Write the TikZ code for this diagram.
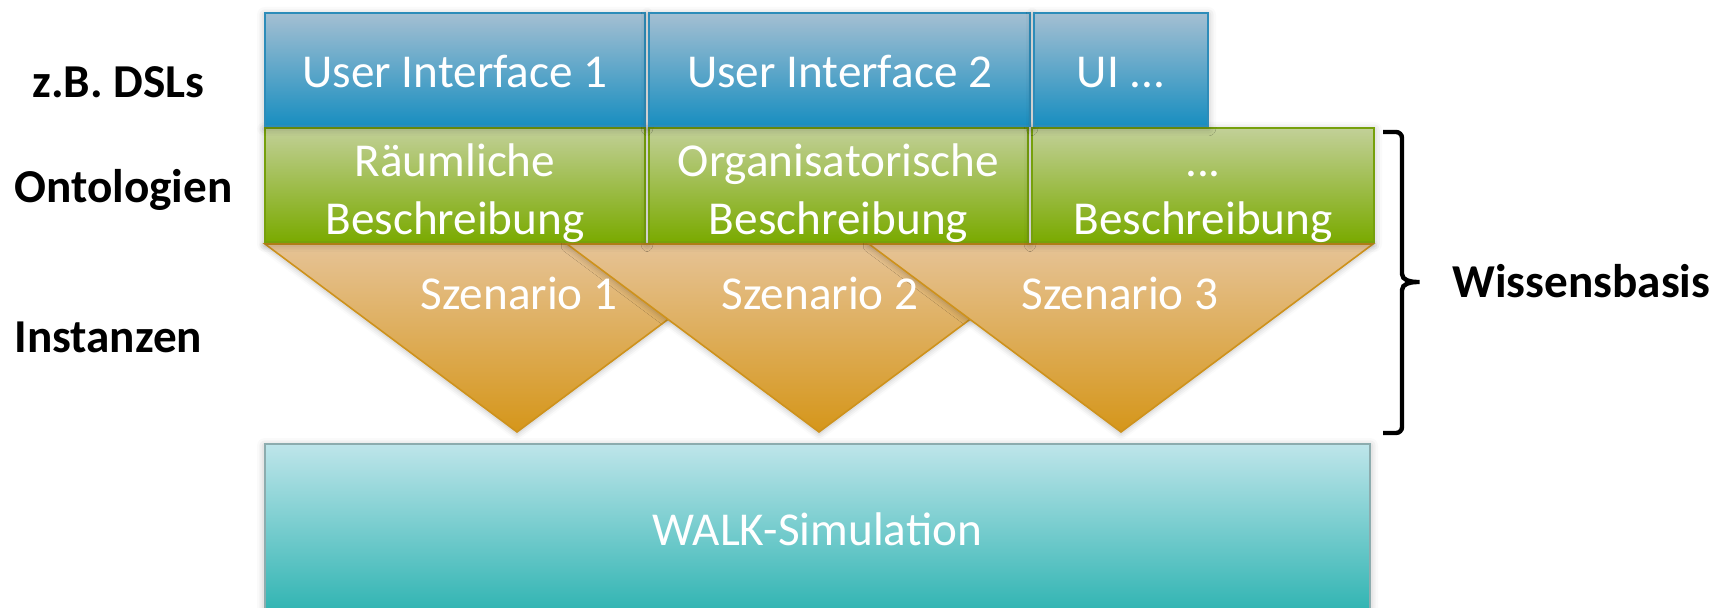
\documentclass[tikz,border=0pt]{standalone}
\usepackage{fontspec}
\setmainfont{Carlito}
\usetikzlibrary{shadows.blur}

\definecolor{uitop}{RGB}{164,191,210}
\definecolor{uibot}{RGB}{24,142,192}
\definecolor{uiline}{RGB}{45,140,185}
\definecolor{ontotop}{RGB}{194,208,152}
\definecolor{ontobot}{RGB}{122,170,0}
\definecolor{ontoline}{RGB}{118,160,12}
\definecolor{scentop}{RGB}{230,195,150}
\definecolor{scenbot}{RGB}{213,150,26}
\definecolor{scenline}{RGB}{206,146,28}
\definecolor{simtop}{RGB}{190,229,234}
\definecolor{simbot}{RGB}{48,180,178}
\definecolor{simline}{RGB}{140,172,174}

\begin{document}
\begin{tikzpicture}[x=0.5pt,y=-0.5pt,
        box/.style={draw,line width=0.8pt,inner sep=0pt,text=white,align=center,
            font=\fontsize{23.6}{29}\selectfont,
            blur shadow={shadow xshift=0pt,shadow yshift=-1pt,shadow blur radius=4pt,shadow opacity=30}},
        uibox/.style={box,draw=uiline,top color=uitop,bottom color=uibot,
            minimum height=56.5pt,text height=18.5pt,text depth=0pt},
        ontobox/.style={box,draw=ontoline,top color=ontotop,bottom color=ontobot,
            minimum height=57pt,text height=50pt,text depth=0pt},
        simbox/.style={box,draw=simline,top color=simtop,bottom color=simbot,
            minimum height=84pt,text height=17pt,text depth=0pt},
        scen/.style={draw=scenline,line width=0.8pt,top color=scentop,bottom color=scenbot,
            blur shadow={shadow xshift=0pt,shadow yshift=-1pt,shadow blur radius=3pt,shadow opacity=25}},
        scentext/.style={text=white,inner sep=0pt,anchor=base,font=\fontsize{23.6}{29}\selectfont},
        layer/.style={inner sep=0pt,anchor=base west,font=\fontsize{23.6}{29}\selectfont\bfseries},
        brace/.style={line width=2.2pt,rounded corners=3pt}]
    \useasboundingbox (0,0) rectangle (1722,608);

    % Simulation
    \node[simbox,minimum width=552.5pt] (walk) at (817.5,528) {WALK-Simulation};

    % Instanzen
    \filldraw[scen] (265,244) -- (769,244) -- (517,432) -- cycle;
    \filldraw[scen] (567,244) -- (1071,244) -- (819,432) -- cycle;
    \filldraw[scen] (869,244) -- (1373,244) -- (1121,432) -- cycle;
    \node[scentext] (sc1) at (519,310) {Szenario 1};
    \node[scentext] (sc2) at (820,310) {Szenario 2};
    \node[scentext] (sc3) at (1120,310) {Szenario 3};

    % Ontologien
    \node[ontobox,minimum width=190pt] (onto1) at (455,185) {Räumliche\\Beschreibung};
    \node[ontobox,minimum width=189.5pt] (onto2) at (838.5,185) {Organisatorische\\Beschreibung};
    \node[ontobox,minimum width=171pt] (onto3) at (1203,185) {...\\Beschreibung};

    % DSLs
    \node[uibox,minimum width=190pt] (ui1) at (455,69.5) {User Interface 1};
    \node[uibox,minimum width=190.5pt] (ui2) at (839.5,69.5) {User Interface 2};
    \node[uibox,minimum width=87pt] (ui3) at (1121,69.5) {UI ...};

    % Labels
    \node[layer] (dsl) at (32,98) {z.B. DSLs};
    \node[layer] (onto) at (14,203) {Ontologien};
    \node[layer] (inst) at (14,353) {Instanzen};
    \node[layer] (wb) at (1452,298) {Wissensbasis};

    % Brace
    \draw[brace] (1383,132) -- (1402,132) -- (1402,268)
        .. controls (1402,280) and (1410,282) .. (1423,282)
        .. controls (1410,282) and (1402,284) .. (1402,296)
        -- (1402,433) -- (1383,433);
\end{tikzpicture}
\end{document}
